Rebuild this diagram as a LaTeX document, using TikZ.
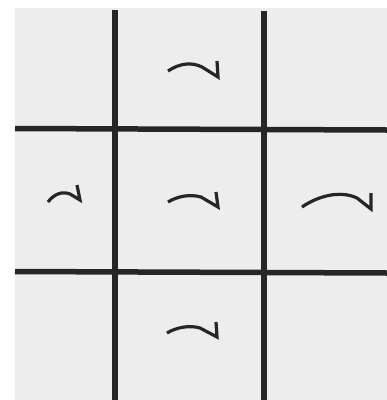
\documentclass[tikz,border=0pt]{standalone}
\definecolor{paper}{RGB}{237,237,237}
\definecolor{ink}{RGB}{38,38,38}
\tikzset{
  gridline/.style={draw=ink, line width=5.5pt},
  hookmark/.style={draw=ink, line width=3.2pt, line join=miter, line cap=butt},
}
\begin{document}
\begin{tikzpicture}[x=1pt,y=-1pt]
  \useasboundingbox (0,0) rectangle (387,400);
  \fill[white] (0,0) rectangle (387,400);
  \fill[paper] (15,8) rectangle (387,400);
  % grid
  \coordinate (v1t) at (115,10);   \coordinate (v1b) at (115,400);
  \coordinate (v2t) at (264,11);   \coordinate (v2b) at (264,400);
  \coordinate (h1l) at (15,128.5); \coordinate (h1r) at (387,130);
  \coordinate (h2l) at (15,271.5); \coordinate (h2r) at (387,273);
  \draw[gridline] (v1t) -- (v1b);
  \draw[gridline] (v2t) -- (v2b);
  \draw[gridline] (h1l) -- (h1r);
  \draw[gridline] (h2l) -- (h2r);
  % marks
  \draw[hookmark] (168,71) .. controls (180,63) and (192,62) .. (202,67) -- (218,77) -- (217,61);
  \draw[hookmark] (48,202) .. controls (54,194) and (62,191) .. (70,194) -- (80,200) -- (77,185);
  \draw[hookmark] (168,202) .. controls (178,196) and (190,194) .. (201,197) -- (218,207) -- (216,192);
  \draw[hookmark] (302,207) .. controls (318,196) and (340,190) .. (357,198) -- (371,209) -- (371,193);
  \draw[hookmark] (167,333) .. controls (177,327) and (190,325) .. (200,328) -- (217,337) -- (216,322);
\end{tikzpicture}
\end{document}
